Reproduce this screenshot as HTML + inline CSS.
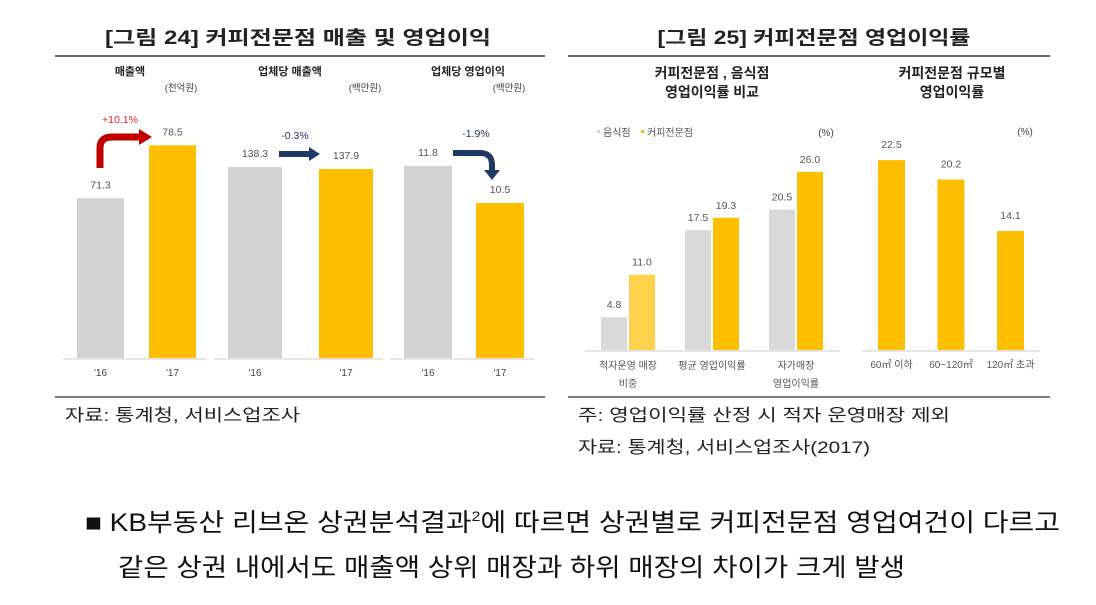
<!DOCTYPE html>
<html><head><meta charset="utf-8"><style>
html,body{margin:0;padding:0;background:#fff}
svg{display:block;font-family:"Liberation Sans","Noto Sans CJK KR",sans-serif}
</style></head><body>
<svg width="1096" height="605" viewBox="0 0 1096 605">
<text x="298" y="44" text-anchor="middle" font-size="19" font-weight="bold" textLength="386" lengthAdjust="spacingAndGlyphs" fill="#222">[그림 24] 커피전문점 매출 및 영업이익</text>
<text x="814" y="44" text-anchor="middle" font-size="19" font-weight="bold" textLength="313" lengthAdjust="spacingAndGlyphs" fill="#222">[그림 25] 커피전문점 영업이익률</text>
<line x1="55" y1="56" x2="545" y2="56" stroke="#333" stroke-width="1.5"/>
<line x1="568" y1="56" x2="1050" y2="56" stroke="#333" stroke-width="1.5"/>
<line x1="55" y1="397" x2="545" y2="397" stroke="#555" stroke-width="1.5"/>
<line x1="568" y1="397" x2="1050" y2="397" stroke="#555" stroke-width="1.5"/>
<g id="c1"></g>
<g id="c2"></g>
<text x="65" y="421" font-size="17" fill="#222" textLength="235" lengthAdjust="spacingAndGlyphs">자료: 통계청, 서비스업조사</text>
<text x="578" y="421" font-size="17" fill="#222" textLength="372" lengthAdjust="spacingAndGlyphs">주: 영업이익률 산정 시 적자 운영매장 제외</text>
<text x="578" y="453" font-size="17" fill="#222" textLength="292" lengthAdjust="spacingAndGlyphs">자료: 통계청, 서비스업조사(2017)</text>
<text x="85" y="531" font-size="25" fill="#111" textLength="975" lengthAdjust="spacingAndGlyphs">■ KB부동산 리브온 상권분석결과<tspan font-size="14" dy="-10">2</tspan><tspan dy="10">에 따르면 상권별로 커피전문점 영업여건이 다르고</tspan></text>
<text x="118" y="576" font-size="25" fill="#111" textLength="787" lengthAdjust="spacingAndGlyphs">같은 상권 내에서도 매출액 상위 매장과 하위 매장의 차이가 크게 발생</text>
</svg>
<script>
const NS="http://www.w3.org/2000/svg";
function mk(p,tag,a,txt){const e=document.createElementNS(NS,tag);for(const k in a)e.setAttribute(k,a[k]);if(txt!=null)e.textContent=txt;p.appendChild(e);return e;}
// Figure 24 data
const f24Panels=["매출액","업체당 매출액","업체당 영업이익"];
const f24Units=["(천억원)","(백만원)","(백만원)"];
const f24Years=["'16","'17"];
const f24Sales=[71.3,78.5];
const f24PerStoreSales=[138.3,137.9];
const f24PerStoreProfit=[11.8,10.5];
const f24Changes=["+10.1%","-0.3%","-1.9%"];
// Figure 25 data
const f25Cats=["적자운영 매장|비중","평균 영업이익률","자가매장|영업이익률"];
const f25Restaurant=[4.8,17.5,20.5];
const f25Coffee=[11.0,19.3,26.0];
const f25SizeCats=["60㎡ 이하","60~120㎡","120㎡ 초과"];
const f25SizeValues=[22.5,20.2,14.1];

const c1=document.getElementById('c1');
const base1=358;
const panels=[
 {vals:f24Sales,x0:77,gap:72,w:47,min:49.6,k:7.36,tx:130,ux:181},
 {vals:f24PerStoreSales,x0:228,gap:91,w:54,min:100.1,k:5,tx:290,ux:365},
 {vals:f24PerStoreProfit,x0:404,gap:72,w:48,min:5.06,k:28.5,tx:468,ux:509}
];
panels.forEach((p,i)=>{
  const y=v=>base1-(v-p.min)*p.k;
  const t=mk(c1,'text',{x:p.tx,y:75,'text-anchor':'middle','font-size':11,'font-weight':'bold',fill:'#222'},f24Panels[i]);
  
  
  const u=mk(c1,'text',{x:p.ux,y:91,'text-anchor':'middle','font-size':9.5,fill:'#444'},f24Units[i]);
  
  
  p.vals.forEach((v,j)=>{
    const x=p.x0+j*p.gap;
    const r=mk(c1,'rect',{x:x,y:y(v),width:p.w,height:base1-y(v),fill:j?'#fdbf00':'#d2d2d2'});
    
    
    const l=mk(c1,'text',{x:x+p.w/2,y:y(v)-10,'text-anchor':'middle','font-size':10.5,fill:'#555'},v.toFixed(1));
    
    
    const yl=mk(c1,'text',{x:x+p.w/2,y:376,'text-anchor':'middle','font-size':10,fill:'#444'},f24Years[j]);
    
    
  });
  const ax=mk(c1,'line',{x1:p.x0-14,y1:base1+1,x2:p.x0+p.gap+p.w+10,y2:base1+1,stroke:'#ccc'});
  
  
});
// arrows
let a=mk(c1,'path',{d:'M100,168 V148 Q100,137 112,137 H140',fill:'none',stroke:'#c00000','stroke-width':7});

a=mk(c1,'path',{d:'M139,129 L152,137 L139,145 z',fill:'#c00000'});

a=mk(c1,'path',{d:'M279,154 H310',fill:'none',stroke:'#1f3864','stroke-width':6});

a=mk(c1,'path',{d:'M309,147 L320,154 L309,161 z',fill:'#1f3864'});

a=mk(c1,'path',{d:'M453,153 H480 Q492,153 492,165 V171',fill:'none',stroke:'#1f3864','stroke-width':6});

a=mk(c1,'path',{d:'M484,170 L500,170 L492,180 z',fill:'#1f3864'});

[[120,123,'#d22'],[295,139,'#1f3864'],[476,137,'#1f3864']].forEach((q,i)=>{
  const t=mk(c1,'text',{x:q[0],y:q[1],'text-anchor':'middle','font-size':10.5,fill:q[2]},f24Changes[i]);
  
  
});

// Figure 25
const c2=document.getElementById('c2');
const base2=350;
[['커피전문점 , 음식점',712,78],['영업이익률 비교',712,97],['커피전문점 규모별',952,78],['영업이익률',952,97]].forEach(s=>{
  const t=mk(c2,'text',{x:s[1],y:s[2],'text-anchor':'middle','font-size':14,'font-weight':'bold',fill:'#222'},s[0]);
  
  
});
let lg=mk(c2,'rect',{x:597,y:130,width:3,height:3,fill:'#d2d2d2'});

lg=mk(c2,'text',{x:603,y:136,'font-size':10,fill:'#555'},'음식점');

lg=mk(c2,'rect',{x:641,y:130,width:3,height:3,fill:'#fdbf00'});

lg=mk(c2,'text',{x:647,y:136,'font-size':10,fill:'#555'},'커피전문점');

[[826,136],[1025,135]].forEach(p=>{
  const t=mk(c2,'text',{x:p[0],y:p[1],'text-anchor':'middle','font-size':10,fill:'#444'},'(%)');
  
  
});
const k2=6.85;
f25Cats.forEach((c,i)=>{
  const x=601+i*84;
  [[f25Restaurant[i],'#d9d9d9',0],[f25Coffee[i],i==0?'#ffd24d':'#fdbf00',28]].forEach((b,j)=>{
    const h=b[0]*k2;
    const r=mk(c2,'rect',{x:x+b[2],y:base2-h,width:26,height:h,fill:b[1]});
    
    
    const l=mk(c2,'text',{x:x+b[2]+13,y:base2-h-9,'text-anchor':'middle','font-size':10.5,fill:'#555'},b[0].toFixed(1));
    
    
  });
  c.split('|').forEach((ln,j)=>{
    const t=mk(c2,'text',{x:x+27,y:369+j*18,'text-anchor':'middle','font-size':10,fill:'#555'},ln);
    
    
  });
});
let ax=mk(c2,'line',{x1:585,y1:base2+1,x2:840,y2:base2+1,stroke:'#ccc'});

const k3=8.44;
f25SizeCats.forEach((c,i)=>{
  const x=878+i*59.5,h=f25SizeValues[i]*k3;
  const r=mk(c2,'rect',{x:x,y:base2-h,width:27,height:h,fill:'#fdbf00'});
  
  
  const l=mk(c2,'text',{x:x+13.5,y:base2-h-12,'text-anchor':'middle','font-size':10.5,fill:'#555'},f25SizeValues[i].toFixed(1));
  
  
  const t=mk(c2,'text',{x:x+13.5,y:368,'text-anchor':'middle','font-size':10,fill:'#555'},c);
  
  
});
ax=mk(c2,'line',{x1:862,y1:base2+1,x2:1040,y2:base2+1,stroke:'#ccc'});

</script>
</body></html>
